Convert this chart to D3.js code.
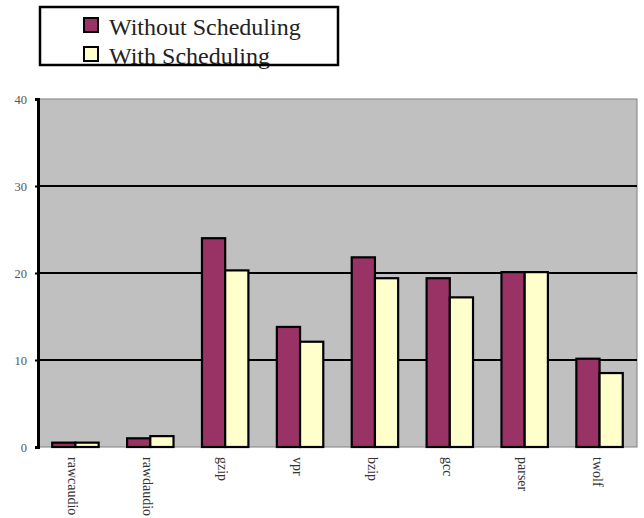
<!DOCTYPE html>
<html>
<head>
<meta charset="utf-8">
<script src="https://cdn.jsdelivr.net/npm/d3@7"></script>
<style>
  body{margin:0;background:#fff;}
  text{font-family:"Liberation Serif","Times New Roman",serif;}
</style>
</head>
<body>
<svg id="canvas"></svg>
<script>
let benchmarks=["rawcaudio","rawdaudio","gzip","vpr","bzip","gcc","parser","twolf"];
let seriesNames=["Without Scheduling","With Scheduling"];
let withoutSched=[0.5,1.0,24.0,13.8,21.8,19.4,20.1,10.15];
let withSched=[0.5,1.25,20.3,12.1,19.4,17.2,20.1,8.5];
let yTicks=[0,10,20,30,40];
let colors=["#993366","#ffffcc"];

let width=644,height=518;
let plotLeft=38,plotRight=637,plotTop=99,plotBottom=447;

let canvas=d3.select("#canvas").attr("width",width).attr("height",height);

let xscale=d3.scaleBand().domain(benchmarks).range([plotLeft,plotRight]).paddingInner(0.38).paddingOuter(0.19);
let inner=d3.scaleBand().domain(seriesNames).range([0,xscale.bandwidth()]);
let yscale=d3.scaleLinear().domain([0,40]).range([plotBottom,plotTop]);

// plot area
canvas.append("rect")
  .attr("x",plotLeft).attr("y",plotTop)
  .attr("width",plotRight-plotLeft).attr("height",plotBottom-plotTop)
  .attr("fill","#c0c0c0").attr("stroke","#808080").attr("stroke-width",1);

// grid lines
canvas.append("g").selectAll("line")
  .data(yTicks.filter(d=>d>0&&d<40))
  .enter().append("line")
  .attr("x1",plotLeft).attr("x2",plotRight)
  .attr("y1",d=>yscale(d)).attr("y2",d=>yscale(d))
  .attr("stroke","#000").attr("stroke-width",2);

// bars
let rows=benchmarks.map((b,i)=>({name:b,vals:[withoutSched[i],withSched[i]]}));
let groups=canvas.append("g").selectAll("g")
  .data(rows).enter().append("g")
  .attr("transform",d=>"translate("+xscale(d.name)+",0)");
groups.selectAll("rect")
  .data(d=>d.vals.map((v,j)=>({s:seriesNames[j],v:v,j:j})))
  .enter().append("rect")
  .attr("x",d=>inner(d.s))
  .attr("width",inner.bandwidth())
  .attr("y",d=>yscale(d.v))
  .attr("height",d=>plotBottom-yscale(d.v))
  .attr("fill",d=>colors[d.j])
  .attr("stroke","#000").attr("stroke-width",2.2);

// y axis
let yAxis=d3.axisLeft(yscale).tickValues(yTicks).tickSize(3).tickPadding(8);
let yg=canvas.append("g").attr("transform","translate("+plotLeft+",0)").call(yAxis);
yg.select(".domain").attr("stroke","#000").attr("stroke-width",3);
yg.selectAll(".tick line").attr("stroke","#000").attr("stroke-width",2);
yg.selectAll(".tick text").attr("font-size",12.5).attr("fill","#555")
  .style("font-family","'Liberation Serif',serif");

// x labels, rotated
let xg=canvas.append("g");
xg.selectAll("text").data(benchmarks).enter().append("text")
  .attr("transform",d=>"translate("+(xscale(d)+xscale.bandwidth()/2-7)+","+(plotBottom+10)+") rotate(90)")
  .attr("font-size",14).attr("fill","#333")
  .text(d=>d);

// legend
let legend=canvas.append("g");
legend.selectAll("rect.sw").data(seriesNames).enter().append("rect")
  .attr("class","sw")
  .attr("x",84).attr("y",(d,i)=>18+i*29)
  .attr("width",14).attr("height",14)
  .attr("fill",(d,i)=>colors[i]).attr("stroke","#000").attr("stroke-width",2);
legend.selectAll("text").data(seriesNames).enter().append("text")
  .attr("x",109).attr("y",(d,i)=>35+i*29)
  .attr("font-size",24).attr("fill","#222")
  .text(d=>d);
legend.append("rect")
  .attr("x",40).attr("y",7).attr("width",298).attr("height",58)
  .attr("fill","none").attr("stroke","#000").attr("stroke-width",2.5);
</script>
</body>
</html>
